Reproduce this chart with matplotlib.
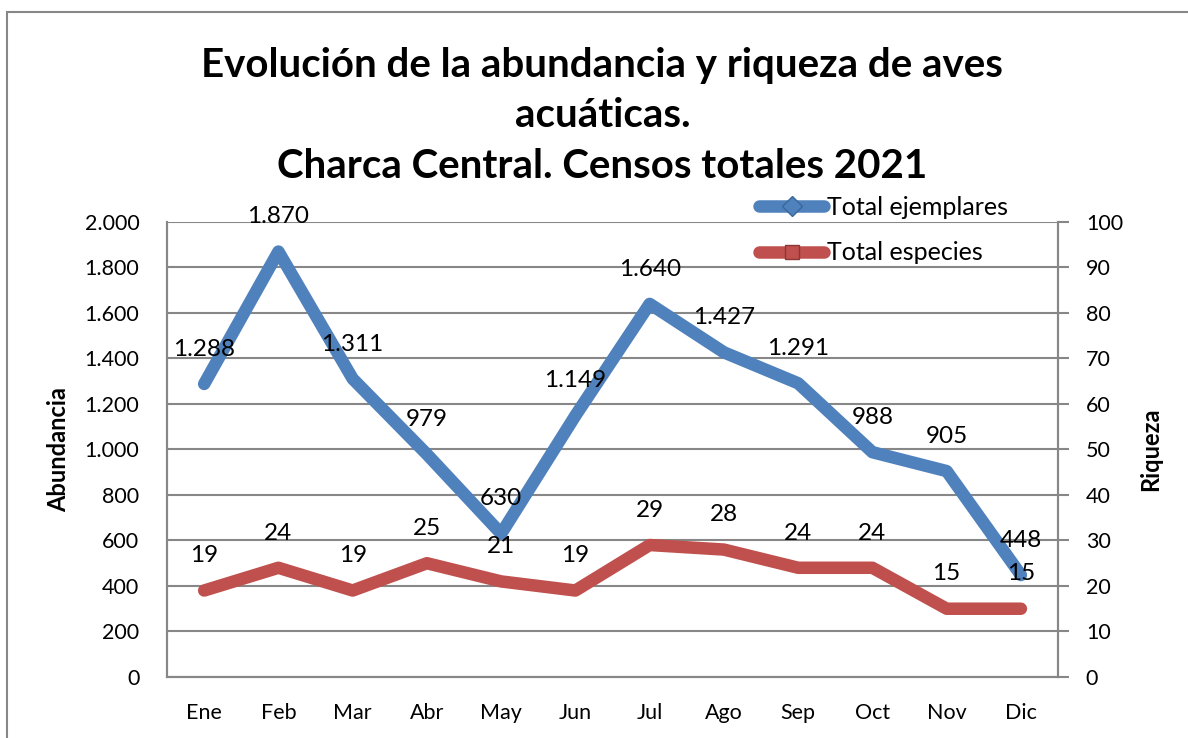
import matplotlib.pyplot as plt
from matplotlib.lines import Line2D
from matplotlib.patches import Rectangle
from matplotlib.ticker import FuncFormatter

plt.rcParams['font.family'] = ['Lato', 'DejaVu Sans']

meses = ['Ene', 'Feb', 'Mar', 'Abr', 'May', 'Jun', 'Jul', 'Ago', 'Sep', 'Oct', 'Nov', 'Dic']
ejemplares = [1288, 1870, 1311, 979, 630, 1149, 1640, 1427, 1291, 988, 905, 448]
especies = [19, 24, 19, 25, 21, 19, 29, 28, 24, 24, 15, 15]

azul = '#4F81BD'
rojo = '#C0504D'
gris = '#878787'


def miles(v, pos=None):
    return '{:,.0f}'.format(v).replace(',', '.')


fig = plt.figure(figsize=(11.88, 7.38), dpi=100)
ax = fig.add_axes([0.1406, 0.0827, 0.75, 0.6165])
ax2 = ax.twinx()

x = range(len(meses))
ax.plot(x, ejemplares, color=azul, lw=9, solid_capstyle='round', solid_joinstyle='round', zorder=3)
ax2.plot(x, especies, color=rojo, lw=9, solid_capstyle='round', solid_joinstyle='round', zorder=3)

# etiquetas de datos encima de cada punto
for i, v in enumerate(ejemplares):
    ax.annotate(miles(v), (i, v), xytext=(0, 25), textcoords='offset points',
                ha='center', va='center', fontsize=17.5, zorder=5)
for i, v in enumerate(especies):
    ax2.annotate(str(v), (i, v), xytext=(0, 25), textcoords='offset points',
                 ha='center', va='center', fontsize=17.5, zorder=5)

ax.set_xlim(-0.5, 11.5)
ax.set_ylim(0, 2000)
ax.set_yticks(range(0, 2001, 200))
ax.yaxis.set_major_formatter(FuncFormatter(miles))
ax2.set_ylim(0, 100)
ax2.set_yticks(range(0, 101, 10))

ax.set_xticks(list(x))
ax.set_xticklabels(meses)
ax.tick_params(axis='x', length=0, pad=19, labelsize=15.5)
ax.tick_params(axis='y', length=0, pad=20, labelsize=15.5)
ax2.tick_params(axis='y', length=8, width=1.5, color=gris, pad=12, labelsize=15.5)

ax.grid(axis='y', color=gris, lw=1.5)
ax.set_axisbelow(True)
for a in (ax, ax2):
    a.spines['top'].set_visible(False)
    for s in ('left', 'right', 'bottom'):
        a.spines[s].set_color(gris)
        a.spines[s].set_linewidth(1.5)

ax.set_ylabel('Abundancia', fontsize=17, fontweight='bold', labelpad=10)
ax2.set_ylabel('Riqueza', fontsize=17, fontweight='bold', labelpad=12)

fig.text(0.507, 0.843, 'Evolución de la abundancia y riqueza de aves\nacuáticas.\nCharca Central. Censos totales 2021',
         ha='center', va='center', fontsize=29, fontweight='bold', linespacing=1.45)

handles = [
    Line2D([], [], color=azul, lw=9, marker='D', markersize=10, markerfacecolor=azul,
           markeredgecolor='#3A6798', solid_capstyle='round'),
    Line2D([], [], color=rojo, lw=9, marker='s', markersize=10, markerfacecolor=rojo,
           markeredgecolor='#8C3836', solid_capstyle='round'),
]
fig.legend(handles, ['Total ejemplares', 'Total especies'], loc='upper left',
           bbox_to_anchor=(0.62, 0.765), frameon=False, fontsize=18,
           handlelength=2.6, handletextpad=0.1, labelspacing=0.9)

fig.patches.append(Rectangle((7 / 1188, -0.1), 1.2, 1.1 - 12 / 738, transform=fig.transFigure,
                             fill=False, edgecolor=gris, lw=1.5))

fig.savefig('out.png', dpi=100)
